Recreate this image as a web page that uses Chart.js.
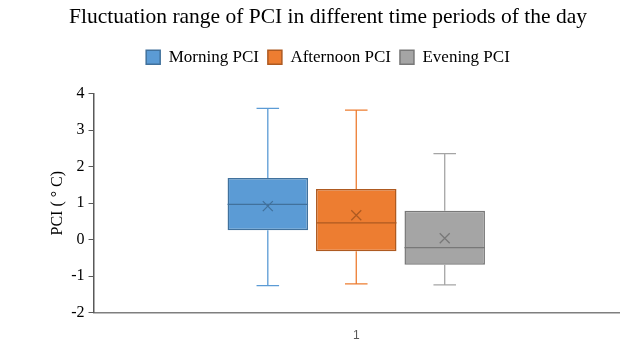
<!DOCTYPE html>
<html>
<head>
<meta charset="utf-8">
<script src="https://cdn.jsdelivr.net/npm/chart.js@4/dist/chart.umd.min.js"></script>
<style>
  html, body { margin: 0; padding: 0; background: #fff; }
  #wrap { width: 642px; height: 354px; }
</style>
</head>
<body>
<div id="wrap"><canvas id="chartPCI"></canvas></div>
<script>
// Box plot data
const categories = ['1'];
const seriesNames = ['Morning PCI', 'Afternoon PCI', 'Evening PCI'];
const minVals = [-1.26, -1.21, -1.24];
const q1Vals = [0.26, -0.32, -0.69];
const medianVals = [0.97, 0.46, -0.22];
const q3Vals = [1.69, 1.39, 0.79];
const maxVals = [3.60, 3.55, 2.36];
const meanVals = [0.92, 0.67, 0.04];
const yTicks = [-2, -1, 0, 1, 2, 3, 4];

const fillColors = ['#5B9BD5', '#ED7D31', '#A5A5A5'];
const lineColors = ['#41719C', '#AE5A21', '#787878'];
const serif = "'Liberation Serif', 'Times New Roman', serif";

// Extra room under the legend
const legendGap = {
    id: 'legendGap',
    beforeInit(chart) {
        const origFit = chart.legend.fit;
        chart.legend.fit = function () {
            origFit.bind(chart.legend)();
            this.height += 18;
        };
    }
};

// Whiskers, medians and mean markers drawn on top of the floating bars
const boxPlotExtras = {
    id: 'boxPlotExtras',
    afterDatasetsDraw(chart) {
        const ctx = chart.ctx;
        const y = chart.scales.y;
        chart.data.datasets.forEach((ds, i) => {
            const meta = chart.getDatasetMeta(i);
            meta.data.forEach(bar => {
                const x = bar.x;
                const w = bar.width;
                const cap = w * 0.14;
                ctx.save();
                ctx.strokeStyle = fillColors[i];
                ctx.lineWidth = 1.3;
                ctx.beginPath();
                ctx.moveTo(x, y.getPixelForValue(q3Vals[i]));
                ctx.lineTo(x, y.getPixelForValue(maxVals[i]));
                ctx.moveTo(x - cap, y.getPixelForValue(maxVals[i]));
                ctx.lineTo(x + cap, y.getPixelForValue(maxVals[i]));
                ctx.moveTo(x, y.getPixelForValue(q1Vals[i]));
                ctx.lineTo(x, y.getPixelForValue(minVals[i]));
                ctx.moveTo(x - cap, y.getPixelForValue(minVals[i]));
                ctx.lineTo(x + cap, y.getPixelForValue(minVals[i]));
                ctx.stroke();
                // median
                ctx.strokeStyle = lineColors[i];
                ctx.beginPath();
                const my = y.getPixelForValue(medianVals[i]);
                ctx.moveTo(x - w / 2, my);
                ctx.lineTo(x + w / 2, my);
                ctx.stroke();
                // mean marker
                const ey = y.getPixelForValue(meanVals[i]);
                const s = 5;
                ctx.beginPath();
                ctx.moveTo(x - s, ey - s);
                ctx.lineTo(x + s, ey + s);
                ctx.moveTo(x + s, ey - s);
                ctx.lineTo(x - s, ey + s);
                ctx.stroke();
                ctx.restore();
            });
        });
    }
};

const ctxPCI = document.getElementById('chartPCI').getContext('2d');
new Chart(ctxPCI, {
    type: 'bar',
    data: {
        labels: categories,
        datasets: seriesNames.map((name, i) => ({
            label: name,
            data: categories.map(() => [q1Vals[i], q3Vals[i]]),
            backgroundColor: fillColors[i],
            borderColor: lineColors[i],
            borderWidth: 1.5,
            borderSkipped: false,
            categoryPercentage: 0.505,
            barPercentage: 0.91
        }))
    },
    options: {
        responsive: true,
        maintainAspectRatio: false,
        animation: false,
        layout: { padding: { left: 37, right: 23, top: 2, bottom: 3 } },
        plugins: {
            title: {
                display: true,
                text: 'Fluctuation range of PCI in different time periods of the day',
                color: '#000',
                font: { family: serif, size: 21.5, weight: 'normal' },
                padding: { top: 2, bottom: 10 }
            },
            legend: {
                position: 'top',
                labels: {
                    color: '#000',
                    font: { family: serif, size: 17 },
                    boxWidth: 14,
                    boxHeight: 14,
                    padding: 9
                }
            },
            tooltip: { enabled: false }
        },
        scales: {
            x: {
                grid: { display: false },
                border: { color: '#7f7f7f', width: 1.5 },
                ticks: { color: '#595959', font: { family: 'Arial, Liberation Sans, sans-serif', size: 12 }, padding: 8 }
            },
            y: {
                min: -2,
                max: 4,
                afterBuildTicks: axis => { axis.ticks = yTicks.map(v => ({ value: v })); },
                grid: { drawOnChartArea: false, drawTicks: true, tickLength: 5, color: '#595959' },
                border: { color: '#595959', width: 1.5 },
                ticks: { color: '#000', font: { family: serif, size: 16 }, padding: 4 },
                title: {
                    display: true,
                    text: 'PCI ( ° C)',
                    color: '#000',
                    font: { family: serif, size: 16 },
                    padding: { top: 11, bottom: 0 }
                }
            }
        }
    },
    plugins: [boxPlotExtras, legendGap]
});
</script>
</body>
</html>
